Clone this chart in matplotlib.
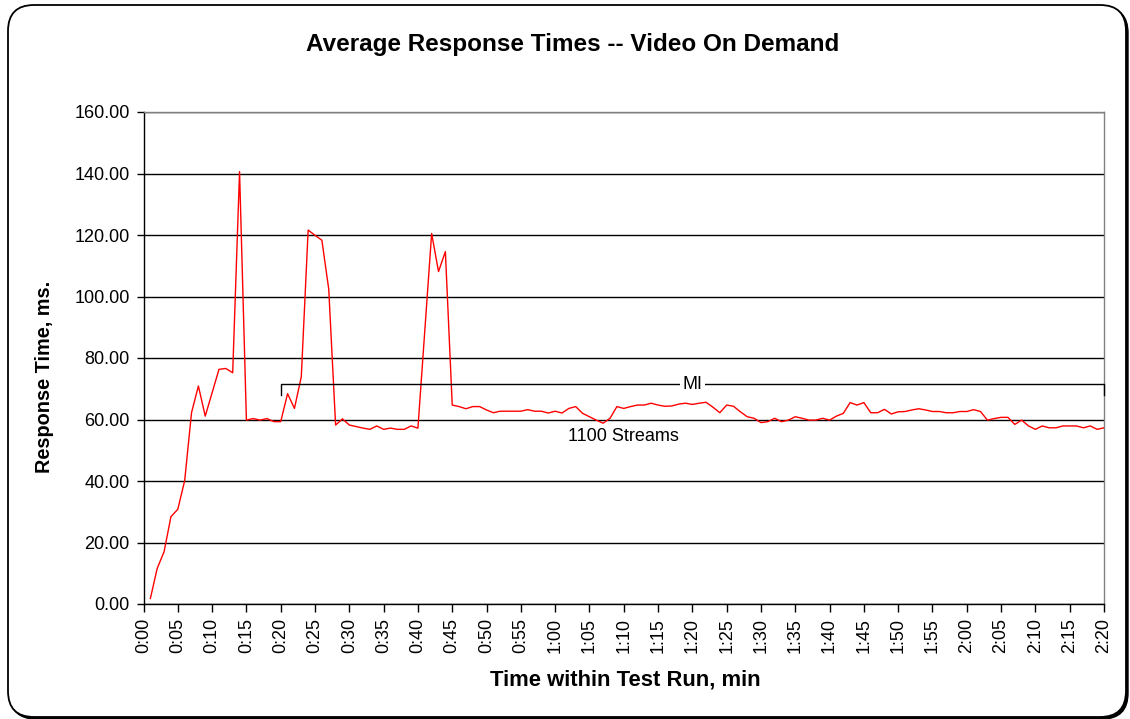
import matplotlib
matplotlib.use("Agg")
import matplotlib.pyplot as plt
import matplotlib.patches as mpatches

plt.rcParams['font.family'] = ['Liberation Sans', 'DejaVu Sans']

# time in seconds within the test run (one sample per second)
seconds = list(range(1, 141))
response_ms = [
    1.8, 11.6, 17.0, 28.4, 30.8, 40.1, 62.2, 70.9, 61.1, 68.7,
    76.3, 76.6, 75.2, 140.6, 59.8, 60.3, 59.8, 60.3, 59.3, 59.3,
    68.4, 63.6, 73.9, 121.6, 119.9, 118.3, 102.4, 58.2, 60.2, 58.2,
    57.7, 57.2, 56.8, 57.9, 56.8, 57.2, 56.8, 56.8, 57.9, 57.2,
    88.9, 120.5, 108.1, 114.6, 64.7, 64.2, 63.5, 64.2, 64.2, 63.1,
    62.2, 62.7, 62.7, 62.7, 62.7, 63.2, 62.7, 62.7, 62.1, 62.7,
    62.1, 63.6, 64.2, 62.0, 60.9, 59.8, 58.8, 60.4, 64.2, 63.6,
    64.2, 64.7, 64.7, 65.3, 64.7, 64.3, 64.4, 65.0, 65.3, 64.9,
    65.3, 65.6, 64.0, 62.2, 64.7, 64.3, 62.5, 60.9, 60.4, 59.0,
    59.3, 60.4, 59.3, 59.8, 60.9, 60.4, 59.8, 59.8, 60.4, 59.8,
    61.1, 62.0, 65.5, 64.7, 65.5, 62.2, 62.2, 63.3, 61.8, 62.5,
    62.6, 63.1, 63.5, 63.1, 62.6, 62.6, 62.2, 62.2, 62.6, 62.6,
    63.2, 62.6, 59.8, 60.3, 60.7, 60.7, 58.4, 59.8, 57.9, 56.8,
    57.9, 57.3, 57.3, 57.9, 57.9, 57.9, 57.3, 57.9, 56.8, 57.3,
]
tick_seconds = list(range(0, 141, 5))
tick_labels = [f"{s // 60}:{s % 60:02d}" for s in tick_seconds]
y_ticks = list(range(0, 161, 20))

mi_start, mi_end, mi_level, mi_drop = 20, 140, 71.5, 68.0
streams_label = "1100 Streams"
streams_pos = (70, 54.6)

W, H = 1130, 719
fig = plt.figure(figsize=(W / 100, H / 100), dpi=100)
fig.patch.set_facecolor('white')

# outer rounded border with shadow
shadow = mpatches.FancyBboxPatch((10, 0), 1118, 712,
                                 boxstyle="round,pad=0,rounding_size=26",
                                 transform=None, facecolor='black',
                                 edgecolor='black', lw=1, zorder=0)
frame = mpatches.FancyBboxPatch((8, 2), 1118, 712,
                                boxstyle="round,pad=0,rounding_size=26",
                                transform=None, facecolor='white',
                                edgecolor='black', lw=1.3, zorder=1)
fig.add_artist(shadow)
fig.add_artist(frame)

left, right, top, bottom = 143.5, 1104, 112, 604
ax = fig.add_axes([left / W, 1 - bottom / H, (right - left) / W, (bottom - top) / H])
ax.set_zorder(2)
ax.set_facecolor('white')

ax.plot(seconds, response_ms, color='#FF0000', lw=1.0, zorder=3)

ax.set_xlim(0, 140)
ax.set_ylim(0, 160)
ax.set_yticks(y_ticks)
ax.set_yticklabels([f"{v:.2f}" for v in y_ticks])
ax.set_xticks(tick_seconds)
ax.set_xticklabels(tick_labels, rotation=90)
ax.tick_params(axis='both', labelsize=13, colors='black', direction='out', length=5, width=1)
ax.tick_params(axis='x', pad=4, length=6)
ax.tick_params(axis='y', pad=5)

ax.yaxis.grid(True, color='black', lw=1.0)
ax.set_axisbelow(True)
for s in ['left', 'bottom']:
    ax.spines[s].set_color('black')
    ax.spines[s].set_linewidth(1.0)
for s in ['top', 'right']:
    ax.spines[s].set_color('#808080')
    ax.spines[s].set_linewidth(1.0)

# MI bracket
ax.plot([mi_start, mi_start, mi_end, mi_end], [mi_drop, mi_level, mi_level, mi_drop],
        color='black', lw=1.0, zorder=4, clip_on=False)
ax.text((mi_start + mi_end) / 2, mi_level, "MI", fontsize=13, ha='center', va='center',
        zorder=5, bbox=dict(facecolor='white', edgecolor='none', pad=1.5))
ax.text(streams_pos[0], streams_pos[1], streams_label, fontsize=13, ha='center', va='center', zorder=5)

fig.text(573 / W, 1 - 45 / H, "Average Response Times -- Video On Demand",
         fontsize=17.5, fontweight='bold', ha='center', va='center')
fig.text(625 / W, 1 - 680 / H, "Time within Test Run, min",
         fontsize=15.8, fontweight='bold', ha='center', va='center')
fig.text(45 / W, 1 - 377 / H, "Response Time, ms.",
         fontsize=14.3, fontweight='bold', ha='center', va='center', rotation=90)

fig.savefig("out.png", dpi=100)
